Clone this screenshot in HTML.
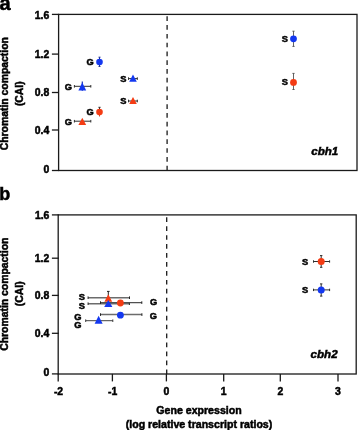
<!DOCTYPE html>
<html><head><meta charset="utf-8">
<style>
html,body{margin:0;padding:0;background:#fff;}
body{width:358px;height:430px;overflow:hidden;}
svg{display:block;}
text{font-family:"Liberation Sans",sans-serif;font-weight:bold;fill:#000;stroke:#000;stroke-width:0.5px;}
.t{font-size:10.4px;}
.l{font-size:9.3px;stroke-width:0.7px;}
.ax{stroke:#1a1a1a;stroke-width:1.3;fill:none;}
.eb{stroke:#2e2e2e;stroke-width:1;fill:none;}
.b{fill:#1438f0;}
.r{fill:#f43c14;}
</style></head><body>
<svg width="358" height="430" viewBox="0 0 358 430">
<rect width="358" height="430" fill="#fff"/>
<g style="filter:blur(0.35px)">
<!-- panel a -->
<text x="-0.6" y="9.8" font-size="20" stroke-width="0.7">a</text>
<rect class="ax" x="58.6" y="14.4" width="298.4" height="156.1"/>
<line class="ax" x1="167.1" y1="14.4" x2="167.1" y2="170.6" stroke="#000" stroke-width="1.5" stroke-dasharray="4.7 4.09" stroke-dashoffset="6.89"/>
<g class="ax">
<line x1="51.9" y1="14.4" x2="58.8" y2="14.4"/>
<line x1="51.9" y1="54.1" x2="58.8" y2="54.1"/>
<line x1="51.9" y1="92.5" x2="58.8" y2="92.5"/>
<line x1="51.9" y1="130" x2="58.8" y2="130"/>
<line x1="51.9" y1="170.5" x2="58.8" y2="170.5"/>
</g>
<g class="t" text-anchor="end">
<text x="49.2" y="18.7">1.6</text>
<text x="49.2" y="58.4">1.2</text>
<text x="49.2" y="96.2">0.8</text>
<text x="49.2" y="133.8">0.4</text>
<text x="49.2" y="173.3">0</text>
</g>
<text class="t" text-anchor="middle" transform="translate(7.6,93.7) rotate(-90)" font-size="10.5">Chromatin compaction</text>
<text class="t" text-anchor="middle" transform="translate(22.9,93.7) rotate(-90)">(CAI)</text>
<text x="311.2" y="155.1" font-size="11.6" font-style="italic">cbh1</text>

<!-- data a -->
<g class="eb">
<path d="M99.5 57.2V66.4M98.5 57.2h2M98.5 66.4h2" stroke="#1a2c90"/>
<path d="M99.5 107.3V116.2M98.4 107.3h2.2"/><path d="M99.5 112V116.3" stroke="#e03818"/>
<path d="M74.4 86.3H90.8M74.4 85v2.6M90.8 85v2.6"/><path d="M82.3 81.5V90.8" stroke="#1a30b0" stroke-width="1.2"/>
<path d="M74.4 121.2H90.8M74.4 119.9v2.6M90.8 119.9v2.6"/>
<path d="M128.5 78.6H137.3M128.5 77.3v2.6M137.3 77.3v2.6"/>
<path d="M128.5 101H137.3M128.5 99.7v2.6M137.3 99.7v2.6"/>
<path d="M293.5 31.2V46.4M292.4 31.2h2.2M292.4 46.4h2.2" stroke="#484848" stroke-width="0.85"/>
<path d="M293.5 73.4V89.5M292.4 73.4h2.2M292.4 89.5h2.2" stroke="#484848" stroke-width="0.85"/>
</g>
<circle class="b" cx="99.5" cy="62" r="3.3"/>
<circle class="r" cx="99.5" cy="112.1" r="3.3"/>
<path class="b" d="M82.3 82.4L86.2 90.4H78.4Z"/>
<path class="r" d="M82.3 117.7L86.2 124.9H78.4Z"/>
<path class="b" d="M133 74.6L136.8 81.8H129.2Z"/>
<path class="r" d="M133 97L136.8 104.1H129.2Z"/>
<circle class="b" cx="293.5" cy="38.8" r="3.4"/>
<circle class="r" cx="293.5" cy="82.4" r="3.4"/>
<g class="l">
<text x="86.6" y="64.9">G</text>
<text x="86.6" y="115.3">G</text>
<text x="64.7" y="90.1">G</text>
<text x="64.7" y="124.8">G</text>
<text x="120.3" y="81.6">S</text>
<text x="120.3" y="103.5">S</text>
<text x="281.8" y="42.2">S</text>
<text x="281.8" y="85.2">S</text>
</g>

<!-- panel b -->
<text x="-0.8" y="200.1" font-size="18" stroke-width="0.8">b</text>
<rect class="ax" x="58.2" y="214.9" width="298" height="159.1"/>
<line class="ax" x1="166.7" y1="214.4" x2="166.7" y2="373.9" stroke="#000" stroke-width="1.5" stroke-dasharray="4.7 4.25" stroke-dashoffset="6.1"/>
<g class="ax">
<line x1="51.9" y1="214.9" x2="58.8" y2="214.9"/>
<line x1="51.9" y1="258.2" x2="58.8" y2="258.2"/>
<line x1="51.9" y1="295.4" x2="58.8" y2="295.4"/>
<line x1="51.9" y1="333.3" x2="58.8" y2="333.3"/>
<line x1="51.9" y1="373.9" x2="58.8" y2="373.9"/>
<line x1="58.2" y1="373.9" x2="58.2" y2="381.4"/>
<line x1="112.4" y1="373.9" x2="112.4" y2="381.4"/>
<line x1="166.4" y1="373.9" x2="166.4" y2="381.4"/>
<line x1="223.7" y1="373.9" x2="223.7" y2="381.4"/>
<line x1="280.3" y1="373.9" x2="280.3" y2="381.4"/>
<line x1="338" y1="373.9" x2="338" y2="381.6"/>
</g>
<g class="t" text-anchor="end">
<text x="49.4" y="219.2">1.6</text>
<text x="49.2" y="262.4">1.2</text>
<text x="49.2" y="299.1">0.8</text>
<text x="49.2" y="337.2">0.4</text>
<text x="49.2" y="376.4">0</text>
</g>
<g class="t" text-anchor="middle">
<text x="58.5" y="394.8">-2</text>
<text x="112.6" y="394.8">-1</text>
<text x="166.4" y="394.8">0</text>
<text x="223.7" y="394.8">1</text>
<text x="280.3" y="394.8">2</text>
<text x="337.9" y="394.8">3</text>
<text x="199" y="414.1" font-size="10.6">Gene expression</text>
<text x="199" y="427.6" font-size="10.6">(log relative transcript ratios)</text>
</g>
<text class="t" text-anchor="middle" transform="translate(7.6,294.2) rotate(-90)" font-size="10.5">Chromatin compaction</text>
<text class="t" text-anchor="middle" transform="translate(22.9,293.8) rotate(-90)">(CAI)</text>
<text x="310.6" y="357.8" font-size="11.6" font-style="italic">cbh2</text>

<!-- data b -->
<g class="eb">
<path d="M88.1 297.7H129.5M88.1 303.7H129.4M100.5 314.6H141.9" stroke="#6c6c6c" stroke-width="1.5"/>
<path d="M88.1 296.4v2.6M129.5 296.4v2.6M108.3 291.4V298M107 291.4h2.6" stroke="#222"/>
<path d="M88.1 302.4v2.6M129.4 302.4v2.6" stroke="#222"/>
<path d="M100.5 302.6H141.8" stroke="#505050" stroke-width="1.3"/><path d="M100.5 301.3v2.6M141.8 301.3v2.6" stroke="#222"/>
<path d="M100.5 313.3v2.6M141.9 313.3v2.6" stroke="#222"/>
<path d="M85.7 320.7H112.8M85.7 319.4v2.6M112.8 319.4v2.6" stroke-width="0.9"/>
<path d="M313.5 261.5H329.6M313.5 260.3v2.4M329.6 260.3v2.4M321.2 255.6V267.3M320 255.6h2.4M320 267.3h2.4"/>
<path d="M313.5 289.9H329.6M313.5 288.7v2.4M329.6 288.7v2.4M321.2 283.9V296.1M320 283.9h2.4M320 296.1h2.4"/>
</g>
<path class="r" d="M108.3 294.3L112.2 301.8H104.4Z"/>
<path class="b" d="M108.3 300.1L112.4 307.1H104.2Z"/>
<circle class="r" cx="120.4" cy="303" r="3.4"/>
<circle class="b" cx="120.4" cy="315.2" r="3.4"/>
<path class="b" d="M98.6 315.8L102.6 323.7H94.6Z"/>
<circle class="r" cx="321.2" cy="261.5" r="3.5"/>
<circle class="b" cx="321.2" cy="289.9" r="3.5"/>
<g class="l">
<text x="78.8" y="300">S</text>
<text x="78.8" y="308.6">S</text>
<text x="74.3" y="320">G</text>
<text x="74.3" y="328.2">G</text>
<text x="149.9" y="305.3">G</text>
<text x="149.7" y="318.7">G</text>
<text x="302.1" y="264.7">S</text>
<text x="302.1" y="292.8">S</text>
</g>
</g>
</svg>
</body></html>
